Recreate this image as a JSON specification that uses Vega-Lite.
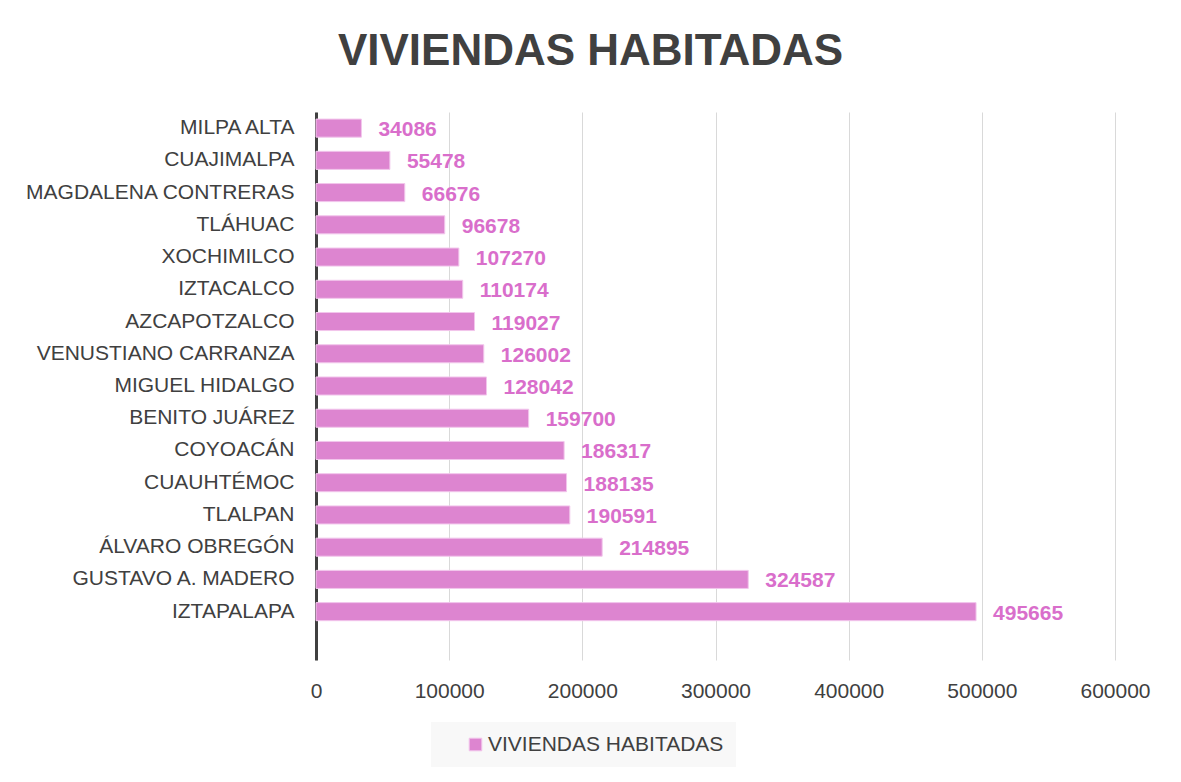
{
  "$schema": "https://vega.github.io/schema/vega-lite/v6.json",
  "width": 799,
  "height": 548,
  "autosize": {"type": "none"},
  "padding": {"left": 316, "top": 112, "right": 66, "bottom": 122},
  "background": "#ffffff",
  "title": {
    "text": "VIVIENDAS HABITADAS",
    "font": "Liberation Sans",
    "fontSize": 44,
    "fontWeight": "bold",
    "color": "#404040",
    "anchor": "middle",
    "dx": -125,
    "baseline": "alphabetic",
    "offset": 3
  },
  "data": {
    "values": [
      {"alcaldia": "MILPA ALTA", "viviendas": 34086},
      {"alcaldia": "CUAJIMALPA", "viviendas": 55478},
      {"alcaldia": "MAGDALENA CONTRERAS", "viviendas": 66676},
      {"alcaldia": "TLÁHUAC", "viviendas": 96678},
      {"alcaldia": "XOCHIMILCO", "viviendas": 107270},
      {"alcaldia": "IZTACALCO", "viviendas": 110174},
      {"alcaldia": "AZCAPOTZALCO", "viviendas": 119027},
      {"alcaldia": "VENUSTIANO CARRANZA", "viviendas": 126002},
      {"alcaldia": "MIGUEL HIDALGO", "viviendas": 128042},
      {"alcaldia": "BENITO JUÁREZ", "viviendas": 159700},
      {"alcaldia": "COYOACÁN", "viviendas": 186317},
      {"alcaldia": "CUAUHTÉMOC", "viviendas": 188135},
      {"alcaldia": "TLALPAN", "viviendas": 190591},
      {"alcaldia": "ÁLVARO OBREGÓN", "viviendas": 214895},
      {"alcaldia": "GUSTAVO A. MADERO", "viviendas": 324587},
      {"alcaldia": "IZTAPALAPA", "viviendas": 495665}
    ]
  },
  "encoding": {
    "y": {
      "field": "alcaldia",
      "type": "nominal",
      "sort": null,
      "scale": {
        "domain": ["MILPA ALTA", "CUAJIMALPA", "MAGDALENA CONTRERAS", "TLÁHUAC", "XOCHIMILCO", "IZTACALCO", "AZCAPOTZALCO", "VENUSTIANO CARRANZA", "MIGUEL HIDALGO", "BENITO JUÁREZ", "COYOACÁN", "CUAUHTÉMOC", "TLALPAN", "ÁLVARO OBREGÓN", "GUSTAVO A. MADERO", "IZTAPALAPA", " "],
        "paddingInner": 0.44,
        "paddingOuter": 0.22
      },
      "axis": {
        "title": null,
        "ticks": false,
        "labelFont": "Liberation Sans",
        "labelFontSize": 21,
        "labelColor": "#404040",
        "labelPadding": 22,
        "labelLimit": 400,
        "domainColor": "#404040",
        "domainWidth": 3,
        "grid": false
      }
    },
    "x": {
      "field": "viviendas",
      "type": "quantitative",
      "scale": {"domain": [0, 600000], "nice": false},
      "axis": {
        "title": null,
        "values": [0, 100000, 200000, 300000, 400000, 500000, 600000],
        "format": "d",
        "domain": false,
        "ticks": false,
        "grid": true,
        "gridColor": "#d9d9d9",
        "gridWidth": 1,
        "labelFont": "Liberation Sans",
        "labelFontSize": 21,
        "labelColor": "#404040",
        "labelPadding": 20,
        "labelFlush": false
      }
    }
  },
  "layer": [
    {
      "mark": {"type": "bar", "stroke": "#f2c6ec", "strokeWidth": 1},
      "encoding": {
        "color": {
          "datum": "VIVIENDAS HABITADAS",
          "type": "nominal",
          "scale": {"range": ["#dd85d0"]},
          "legend": {
            "title": null,
            "orient": "none",
            "legendX": 115,
            "legendY": 610,
            "direction": "horizontal",
            "fillColor": "#f8f8f8",
            "padding": 12,
            "symbolType": "square",
            "symbolSize": 160,
            "symbolStrokeColor": "#f2c6ec",
            "symbolStrokeWidth": 1,
            "labelFont": "Liberation Sans",
            "labelFontSize": 21,
            "labelColor": "#404040",
            "labelLimit": 400,
            "labelExpr": "datum.label + '   '",
            "symbolOffset": 22,
            "labelOffset": 2
          }
        }
      }
    },
    {
      "mark": {
        "type": "text",
        "align": "left",
        "baseline": "middle",
        "dx": 17,
        "dy": 2,
        "font": "Liberation Sans",
        "fontSize": 21,
        "fontWeight": "bold",
        "color": "#d96ecb"
      },
      "encoding": {
        "text": {"field": "viviendas", "type": "quantitative", "format": "d"}
      }
    }
  ],
  "config": {
    "view": {"stroke": null}
  }
}
